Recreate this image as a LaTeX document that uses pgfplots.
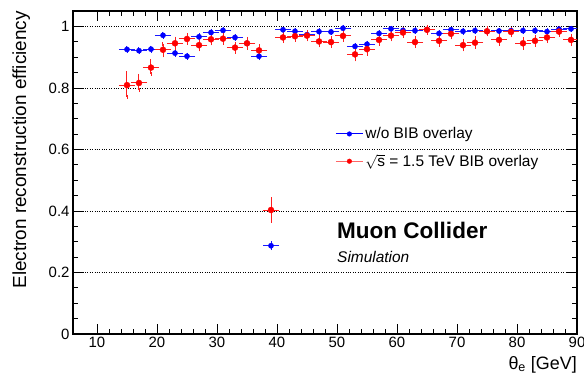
\documentclass[border=0pt]{standalone}
\usepackage{fontspec}
\setmainfont{Liberation Sans}
\usepackage{pgfplots}
\pgfplotsset{compat=1.18}
\usepackage{pgfplotstable}
\definecolor{rootblue}{RGB}{0,0,255}
\definecolor{rootred}{RGB}{255,0,0}

\pgfplotstableread{
x  y     ex ey
15 0.925 1 0.005
17 0.921 1 0.005
19 0.926 1 0.005
21 0.971 1 0.005
23 0.913 1 0.005
25 0.903 1 0.005
27 0.966 1 0.005
29 0.980 1 0.005
31 0.987 1 0.005
33 0.964 1 0.005
35 0.945 1 0.005
37 0.903 1 0.006
39 0.287 1 0.008
41 0.989 1 0.004
43 0.984 1 0.004
45 0.973 1 0.004
47 0.983 1 0.004
49 0.982 1 0.004
51 0.994 1 0.004
53 0.935 1 0.005
55 0.942 1 0.005
57 0.977 1 0.004
59 0.992 1 0.004
61 0.987 1 0.004
63 0.986 1 0.004
65 0.989 1 0.004
67 0.977 1 0.004
69 0.989 1 0.004
71 0.984 1 0.004
73 0.986 1 0.004
75 0.984 1 0.004
77 0.985 1 0.004
79 0.986 1 0.004
81 0.986 1 0.004
83 0.986 1 0.004
85 0.983 1 0.004
87 0.991 1 0.004
89 0.992 1 0.004
}\bluedata

\pgfplotstableread{
x  y     ex ey
15 0.809 1 0.038
17 0.816 1 0.023
19 0.866 1 0.020
21 0.924 1 0.018
23 0.945 1 0.015
25 0.959 1 0.012
27 0.939 1 0.014
29 0.958 1 0.013
31 0.960 1 0.014
33 0.931 1 0.013
35 0.945 1 0.014
37 0.922 1 0.013
39 0.403 1 0.035
41 0.964 1 0.012
43 0.968 1 0.012
45 0.970 1 0.012
47 0.951 1 0.013
49 0.949 1 0.013
51 0.969 1 0.013
53 0.909 1 0.016
55 0.926 1 0.015
57 0.956 1 0.013
59 0.970 1 0.012
61 0.980 1 0.011
63 0.949 1 0.013
65 0.989 1 0.010
67 0.953 1 0.013
69 0.976 1 0.012
71 0.939 1 0.014
73 0.947 1 0.014
75 0.984 1 0.010
77 0.956 1 0.013
79 0.982 1 0.011
81 0.945 1 0.014
83 0.953 1 0.013
85 0.964 1 0.012
87 0.983 1 0.011
89 0.956 1 0.013
}\reddata

\begin{document}
\begin{tikzpicture}
\begin{axis}[
  scale only axis, width=504bp, height=323bp,
  xmin=6, xmax=90, ymin=0, ymax=1.05,
  xtick={10,20,...,90}, minor x tick num=4,
  ytick={0,0.2,0.4,0.6,0.8,1}, minor y tick num=3,
  tick align=inside,
  major tick length=10bp, minor tick length=5bp,
  tick style={black, line width=0.8bp},
  axis line style={line width=1.2bp},
  ymajorgrids, major grid style={dotted, black, line width=0.7bp},
  tick label style={font=\fontsize{15}{18}\selectfont},
  /pgf/number format/assume math mode=true,
  yticklabel style={/pgf/number format/fixed},
  xlabel={θ\textsubscript{e} [GeV]},
  ylabel={Electron reconstruction efficiency},
  xlabel style={font=\fontsize{18}{21}\selectfont, at={(axis description cs:1,-0.068)}, anchor=north east, inner sep=0pt},
  ylabel style={font=\fontsize{19}{22}\selectfont, at={(axis description cs:-0.085,1)}, anchor=south east, inner sep=0pt},
  legend style={at={(axis cs:49.7,0.605)}, anchor=west, draw=none, fill=none,
    font=\fontsize{15.5}{18}\selectfont, row sep=10bp, cells={anchor=west}, inner sep=0pt},
  legend cell align=left,
]
\addplot[only marks, color=rootblue, mark=*, mark size=2.6bp,
  mark options={solid, fill=rootblue, draw=rootblue},
  legend image code/.code={\draw[rootblue, line width=1bp] (0bp,0bp) -- (27bp,0bp);
     \fill[rootblue] (13.5bp,0bp) circle (2.3bp);},
  error bars/.cd, x dir=both, x explicit, y dir=both, y explicit,
  error bar style={line width=1bp, rootblue!90},
  error mark options={line width=1bp, mark size=2bp, rootblue!90}]
  table[x=x, y=y, x error=ex, y error=ey]{\bluedata};
\addlegendentry{w/o BIB overlay}
\addplot[only marks, color=rootred, mark=*, mark size=3bp,
  mark options={solid, fill=rootred, draw=rootred},
  legend image code/.code={\draw[rootred!60, line width=1bp] (0bp,0bp) -- (27bp,0bp);
     \fill[rootred] (13.5bp,0bp) circle (2.3bp);},
  error bars/.cd, x dir=both, x explicit, y dir=both, y explicit,
  error bar style={line width=1bp, rootred!88},
  error mark options={line width=1bp, mark size=2bp, rootred!88}]
  table[x=x, y=y, x error=ex, y error=ey]{\reddata};
\addlegendentry{$\sqrt{\mbox{s}}$ = 1.5 TeV BIB overlay}
\node[anchor=west, font=\bfseries\fontsize{22.6}{26}\selectfont, inner sep=0pt] at (axis cs:50,0.335) {Muon Collider};
\node[anchor=west, font=\itshape\fontsize{15.5}{18}\selectfont, inner sep=0pt] at (axis cs:50,0.25) {Simulation};
\end{axis}
\pgfresetboundingbox
\useasboundingbox (-73bp,-42bp) rectangle (511bp,334bp);
\end{tikzpicture}
\end{document}
